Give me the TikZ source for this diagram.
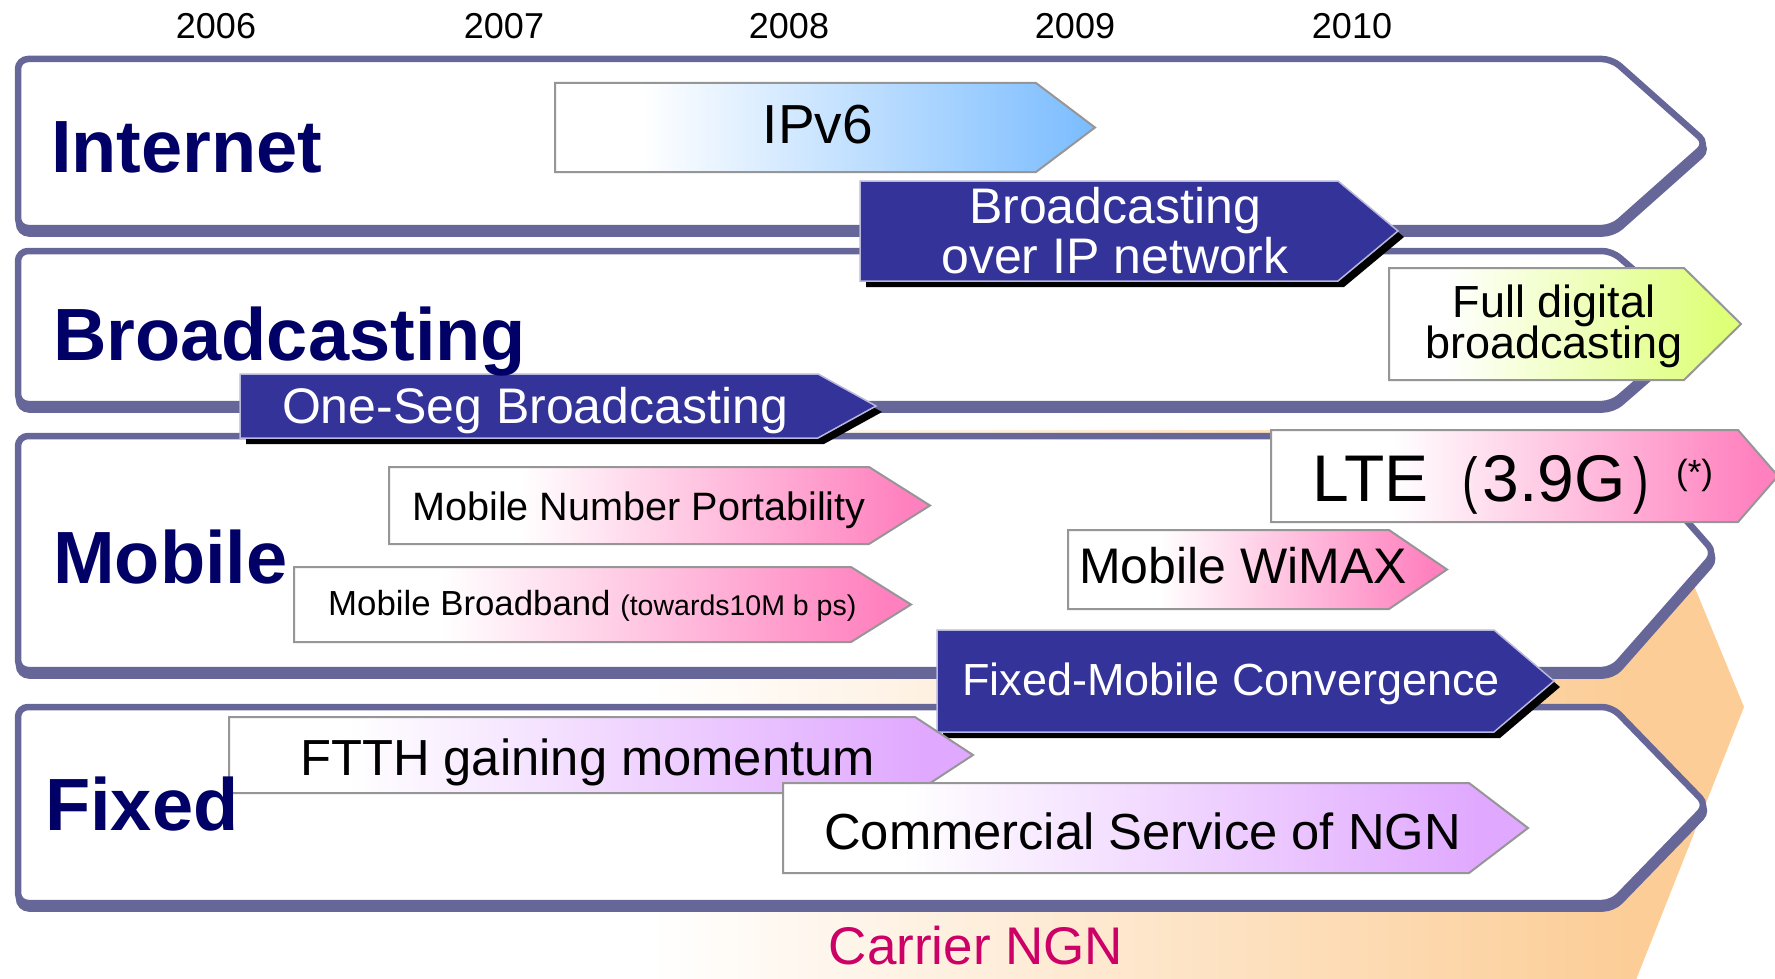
\documentclass[tikz,border=0pt]{standalone}
\usepackage{fontspec}
\setmainfont{Liberation Sans}
\definecolor{lanecol}{RGB}{102,102,153}
\definecolor{navybox}{RGB}{51,51,153}
\definecolor{labelcol}{RGB}{0,0,102}
\definecolor{bluec}{RGB}{122,188,255}
\definecolor{greenc}{RGB}{222,255,120}
\definecolor{pinkc}{RGB}{255,128,190}
\definecolor{purplec}{RGB}{224,168,255}
\definecolor{orangec}{RGB}{252,205,150}
\definecolor{ngncol}{RGB}{204,0,102}
\definecolor{boxline}{RGB}{150,150,150}
\pgfdeclarehorizontalshading{bluesh}{100bp}{color(0bp)=(white); color(33bp)=(white); color(75bp)=(bluec); color(100bp)=(bluec)}
\pgfdeclarehorizontalshading{greensh}{100bp}{color(0bp)=(white); color(33bp)=(white); color(72bp)=(greenc); color(100bp)=(greenc)}
\pgfdeclarehorizontalshading{pinksh}{100bp}{color(0bp)=(white); color(37bp)=(white); color(73bp)=(pinkc); color(100bp)=(pinkc)}
\pgfdeclarehorizontalshading{purplesh}{100bp}{color(0bp)=(white); color(33bp)=(white); color(72bp)=(purplec); color(100bp)=(purplec)}
\pgfdeclarehorizontalshading{orangesh}{100bp}{color(0bp)=(white); color(25bp)=(white); color(70bp)=(orangec); color(100bp)=(orangec)}
\newcommand\arrowshape[5]{(#1,#4) -- (#2,#4) -- (#3,{(#4+#5)/2}) -- (#2,#5) -- (#1,#5) -- cycle}
\newcommand\thinparen[1]{\scalebox{0.75}[1]{\fontsize{62}{66}\selectfont #1}}
\begin{document}
\begin{tikzpicture}[x=1pt,y=-1pt,
  yearlbl/.style={anchor=base,inner sep=0,font=\fontsize{36}{40}\selectfont},
  lanelbl/.style={anchor=base west,inner sep=0,text=labelcol,font=\fontsize{74}{80}\selectfont\bfseries},
  navyarrow/.style={fill=navybox,draw=white!65!navybox,line width=1.5},
  navyshadow/.style={fill=black,shift={(6,6)}},
  lightarrow/.style={draw=boxline,line width=2},
  whitetxt/.style={inner sep=0,text=white},
  blacktxt/.style={inner sep=0,text=black}]
\useasboundingbox (0,0) rectangle (1775,979);
\clip (0,0) rectangle (1775,979);
% Carrier NGN background
\shade[shading=orangesh] (650,430) -- (1630,430) -- (1744,707) -- (1630,995) -- (650,995) -- cycle;
% lanes
\foreach \ytop/\ybot/\xtip in {59/228/1707, 251/404/1700, 436/670/1715, 707/903/1707}{
  \path[fill=lanecol,draw=lanecol,line width=6.5,rounded corners=10,shift={(1,5.5)}] \arrowshape{18}{1612}{\xtip}{\ytop}{\ybot};
  \path[fill=white,draw=lanecol,line width=6.5,rounded corners=10] \arrowshape{18}{1612}{\xtip}{\ytop}{\ybot};
}
% Internet lane items
\shade[shading=bluesh,lightarrow] \arrowshape{555}{1036}{1095}{83}{172};
\node[blacktxt,anchor=base,font=\fontsize{55}{60}\selectfont] (ipv6) at (818,144) {IPv6};
\path[navyshadow] \arrowshape{860}{1338}{1398}{181}{281};
\path[navyarrow] \arrowshape{860}{1338}{1398}{181}{281};
\node[whitetxt,anchor=base,font=\fontsize{50}{50}\selectfont] (boip1) at (1115,223) {Broadcasting};
\node[whitetxt,anchor=base,font=\fontsize{50}{50}\selectfont] (boip2) at (1115,273) {over IP network};
% Broadcasting lane items
\shade[shading=greensh,lightarrow] \arrowshape{1389}{1684}{1741}{268}{380};
\node[blacktxt,anchor=base,font=\fontsize{45}{45}\selectfont] (fdb1) at (1554,317) {Full digital};
\node[blacktxt,anchor=base,font=\fontsize{45}{45}\selectfont] (fdb2) at (1554,358) {broadcasting};
\path[navyshadow] \arrowshape{240}{818}{876}{374}{438};
\path[navyarrow] \arrowshape{240}{818}{876}{374}{438};
\node[whitetxt,anchor=base,font=\fontsize{50}{50}\selectfont] (oneseg) at (535,423) {One-Seg Broadcasting};
% Mobile lane items
\shade[shading=pinksh,lightarrow] \arrowshape{389}{869}{930}{467}{544};
\node[blacktxt,anchor=base,font=\fontsize{39.6}{40}\selectfont] (mnp) at (639,520) {Mobile Number Portability};
\shade[shading=pinksh,lightarrow] \arrowshape{294}{851}{911}{567}{642};
\node[blacktxt,anchor=base west,font=\fontsize{34.8}{38}\selectfont] (mbb) at (328,615) {Mobile Broadband {\fontsize{28.5}{30}\selectfont(towards10M b ps)}};
\shade[shading=pinksh,lightarrow] \arrowshape{1271}{1738}{1778}{430}{522};
\node[blacktxt,anchor=base west,font=\fontsize{66}{70}\selectfont] (lte) at (1312,501) {LTE\hspace{34.1pt}\thinparen{(}\hspace{4.6pt}3.9G\hspace{8.2pt}\thinparen{)}\hspace{26.8pt}\raisebox{16.5pt}{\fontsize{35}{38}\selectfont(*)}};
\shade[shading=pinksh,lightarrow] \arrowshape{1068}{1389}{1447}{530}{609};
\node[blacktxt,anchor=base west,font=\fontsize{50}{50}\selectfont] (wimax) at (1079,583) {Mobile WiMAX};
\path[navyshadow] \arrowshape{937}{1494}{1554}{630}{732};
\path[navyarrow] \arrowshape{937}{1494}{1554}{630}{732};
\node[whitetxt,anchor=base west,font=\fontsize{45}{45}\selectfont] (fmc) at (962,695) {Fixed-Mobile Convergence};
% Fixed lane items
\shade[shading=purplesh,lightarrow] \arrowshape{229}{915}{973}{717}{793};
\node[blacktxt,anchor=base west,font=\fontsize{50.7}{50}\selectfont] (ftth) at (300,775) {FTTH gaining momentum};
\shade[shading=purplesh,lightarrow] \arrowshape{783}{1469}{1528}{783}{873};
\node[blacktxt,anchor=base west,font=\fontsize{50.7}{50}\selectfont] (ngn) at (824,849) {Commercial Service of NGN};
% Carrier NGN label
\node[inner sep=0,anchor=base,text=ngncol,font=\fontsize{53}{55}\selectfont] (carrier) at (976,964) {Carrier NGN};
% lane labels
\node[lanelbl] (linternet) at (51,172) {Internet};
\node[lanelbl] (lbroad) at (53,360) {Broadcasting};
\node[lanelbl] (lmobile) at (53,583) {Mobile};
\node[lanelbl] (lfixed) at (45,830) {Fixed};
% years
\node[yearlbl] (y2006) at (216,39) {2006};
\node[yearlbl] (y2007) at (504,39) {2007};
\node[yearlbl] (y2008) at (789,39) {2008};
\node[yearlbl] (y2009) at (1075,39) {2009};
\node[yearlbl] (y2010) at (1352,39) {2010};
\end{tikzpicture}
\end{document}
